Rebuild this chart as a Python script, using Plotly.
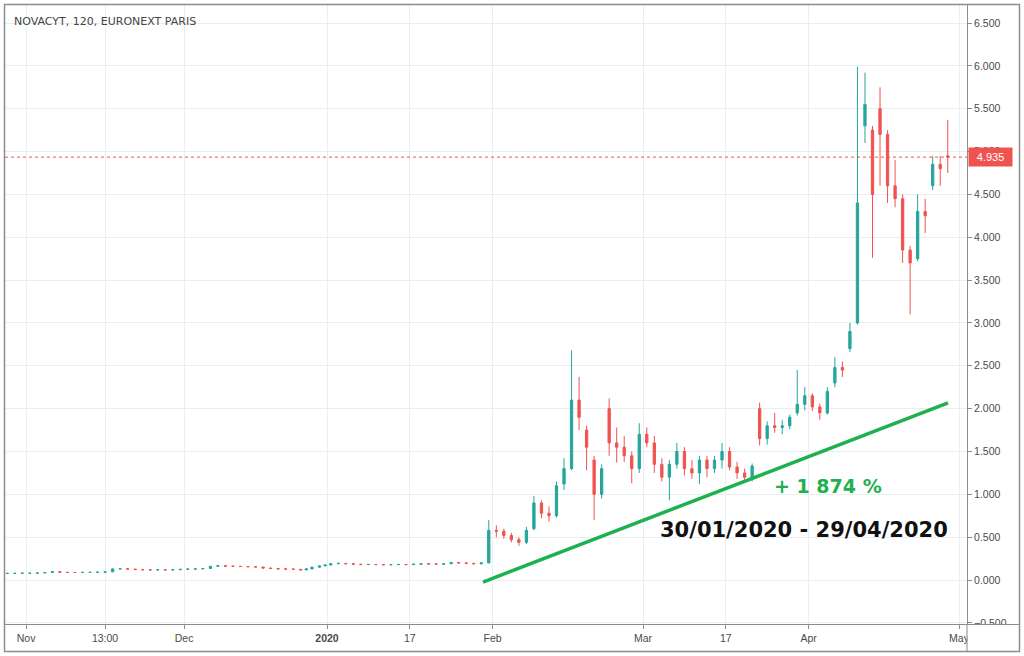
import pandas as pd
import plotly.graph_objects as go

# ---------------- data ----------------
chart_title = "NOVACYT, 120, EURONEXT PARIS"
last_price = 4.935
gain_text = "+ 1 874 %"
period_text = "30/01/2020 - 29/04/2020"

first_day = "2019-10-29"
axis_end_day = "2020-05-04"
holidays = ["2019-12-25", "2019-12-26", "2020-01-01", "2020-04-10", "2020-04-13", "2020-05-01"]
half_days = ["2019-12-24", "2019-12-31"]

# Oct 29 2019 -> Dec 31 2019 (44 sessions)
open_q4 = [0.077, 0.078, 0.078, 0.080, 0.080, 0.082, 0.088, 0.098, 0.090, 0.088, 0.088, 0.090, 0.090, 0.091,
           0.096, 0.130, 0.132, 0.128, 0.122, 0.120, 0.118, 0.120, 0.118, 0.120, 0.125, 0.128, 0.130, 0.136,
           0.160, 0.168, 0.162, 0.160, 0.158, 0.155, 0.152, 0.140, 0.135, 0.130, 0.128, 0.125, 0.118, 0.130,
           0.150, 0.165]
high_q4 = [0.082, 0.082, 0.083, 0.084, 0.086, 0.092, 0.106, 0.100, 0.093, 0.092, 0.094, 0.094, 0.095, 0.099,
           0.136, 0.138, 0.134, 0.130, 0.125, 0.123, 0.124, 0.122, 0.124, 0.129, 0.132, 0.134, 0.139, 0.164,
           0.172, 0.170, 0.166, 0.163, 0.160, 0.157, 0.154, 0.143, 0.138, 0.134, 0.131, 0.128, 0.133, 0.154,
           0.168, 0.180]
low_q4 = [0.074, 0.075, 0.076, 0.077, 0.078, 0.080, 0.086, 0.087, 0.085, 0.085, 0.086, 0.087, 0.088, 0.089,
          0.093, 0.126, 0.126, 0.120, 0.117, 0.115, 0.115, 0.115, 0.115, 0.117, 0.122, 0.125, 0.127, 0.133,
          0.156, 0.158, 0.157, 0.154, 0.152, 0.149, 0.137, 0.132, 0.127, 0.125, 0.121, 0.114, 0.116, 0.127,
          0.146, 0.162]
close_q4 = [0.078, 0.078, 0.080, 0.080, 0.082, 0.088, 0.098, 0.090, 0.088, 0.088, 0.090, 0.090, 0.091, 0.095,
            0.130, 0.132, 0.128, 0.122, 0.120, 0.118, 0.120, 0.118, 0.120, 0.125, 0.128, 0.130, 0.135, 0.160,
            0.168, 0.162, 0.160, 0.158, 0.155, 0.152, 0.140, 0.135, 0.130, 0.128, 0.125, 0.118, 0.130, 0.150,
            0.165, 0.175]

# Jan 2 2020 -> Jan 29 2020 (20 sessions)
open_jan = [0.175, 0.190, 0.195, 0.190, 0.185, 0.180, 0.182, 0.180, 0.178, 0.180,
            0.182, 0.180, 0.185, 0.190, 0.188, 0.185, 0.190, 0.205, 0.200, 0.195]
high_jan = [0.196, 0.200, 0.198, 0.193, 0.188, 0.186, 0.186, 0.184, 0.184, 0.186,
            0.186, 0.189, 0.194, 0.194, 0.191, 0.194, 0.212, 0.210, 0.204, 0.199]
low_jan = [0.172, 0.186, 0.186, 0.182, 0.176, 0.177, 0.176, 0.174, 0.175, 0.177,
           0.176, 0.177, 0.181, 0.184, 0.181, 0.182, 0.187, 0.196, 0.191, 0.186]
close_jan = [0.190, 0.195, 0.190, 0.185, 0.180, 0.182, 0.180, 0.178, 0.180, 0.182,
             0.180, 0.185, 0.190, 0.188, 0.185, 0.190, 0.205, 0.200, 0.195, 0.190]

# Jan 30 2020 -> Apr 29 2020 (63 sessions)
open_rally = [0.190, 0.200, 0.580, 0.570, 0.520, 0.470, 0.440, 0.600, 0.900, 0.780,
              0.750, 1.120, 1.300, 2.100, 1.750, 1.400, 1.000, 2.000, 1.600, 1.550,
              1.450, 1.300, 1.700, 1.600, 1.350, 1.200, 1.350, 1.500, 1.300, 1.250,
              1.400, 1.300, 1.400, 1.500, 1.320, 1.250, 1.180, 2.000, 1.650, 1.800,
              1.780, 1.800, 1.950, 2.050, 2.150, 2.020, 1.950, 2.300, 2.480, 2.700,
              3.000, 5.300, 5.250, 5.500, 5.200, 4.600, 4.450, 3.850, 3.750, 4.300,
              4.600, 4.850, 4.950]
high_rally = [0.210, 0.700, 0.640, 0.600, 0.550, 0.500, 0.620, 0.980, 0.930, 0.860,
              1.150, 1.420, 2.680, 2.370, 1.800, 1.450, 1.350, 2.120, 1.780, 1.680,
              1.500, 1.830, 1.780, 1.680, 1.420, 1.400, 1.600, 1.550, 1.400, 1.450,
              1.450, 1.450, 1.600, 1.550, 1.380, 1.300, 1.360, 2.070, 1.850, 1.950,
              1.870, 1.930, 2.450, 2.250, 2.180, 2.060, 2.250, 2.600, 2.550, 3.000,
              5.990, 5.920, 5.300, 5.750, 5.250, 4.900, 4.500, 3.900, 4.500, 4.450,
              4.950, 4.950, 5.370]
low_rally = [0.182, 0.195, 0.500, 0.480, 0.440, 0.400, 0.420, 0.580, 0.720, 0.680,
             0.730, 1.050, 1.280, 1.750, 1.280, 0.700, 0.950, 1.450, 1.370, 1.380,
             1.130, 1.250, 1.550, 1.250, 1.150, 0.930, 1.300, 1.220, 1.180, 1.120,
             1.200, 1.250, 1.300, 1.280, 1.180, 1.170, 1.150, 1.570, 1.580, 1.720,
             1.700, 1.760, 1.920, 1.980, 1.970, 1.870, 1.930, 2.250, 2.370, 2.660,
             2.980, 5.100, 3.760, 4.600, 4.400, 4.350, 3.700, 3.100, 3.720, 4.050,
             4.550, 4.600, 4.750]
close_rally = [0.200, 0.580, 0.570, 0.520, 0.470, 0.440, 0.580, 0.900, 0.780, 0.750,
               1.100, 1.300, 2.100, 1.900, 1.550, 1.000, 1.300, 1.600, 1.550, 1.450,
               1.300, 1.700, 1.600, 1.350, 1.200, 1.350, 1.500, 1.300, 1.250, 1.400,
               1.300, 1.400, 1.500, 1.320, 1.250, 1.200, 1.330, 1.650, 1.800, 1.780,
               1.800, 1.900, 2.050, 2.150, 2.020, 1.950, 2.200, 2.480, 2.450, 2.900,
               4.400, 5.550, 4.500, 5.200, 4.600, 4.450, 3.850, 3.700, 4.300, 4.250,
               4.850, 4.800, 4.935]

# hand-drawn trend line (start/end session, price)
trend_days = ["2020-01-30", "2020-04-29"]
trend_prices = [-0.023, 2.066]

# x-axis labels: (session, label)
tick_days = ["2019-11-01", "2019-11-15", "2019-12-02", "2020-01-02", "2020-01-17",
             "2020-02-03", "2020-03-02", "2020-03-17", "2020-04-01", "2020-05-04"]
tick_labels = ["Nov", "13:00", "Dec", "<b>2020</b>", "17", "Feb", "Mar", "17", "Apr", "May"]

# ---------------- build session scale ----------------
sessions = [d.strftime("%Y-%m-%d") for d in pd.bdate_range(first_day, axis_end_day)
            if d.strftime("%Y-%m-%d") not in holidays]
weights = [0.5 if s in half_days else 1.0 for s in sessions]
start_pos = {}
acc = 0.0
for s, w in zip(sessions, weights):
    start_pos[s] = acc
    acc += w

open_ = open_q4 + open_jan + open_rally
high = high_q4 + high_jan + high_rally
low = low_q4 + low_jan + low_rally
close = close_q4 + close_jan + close_rally
n = len(close)
x_candle = [start_pos[s] + w / 2 for s, w in zip(sessions[:n], weights[:n])]

tickvals = [start_pos[d] + (0.5 if lab == "13:00" else 0.0) for d, lab in zip(tick_days, tick_labels)]
trend_x = [start_pos[trend_days[0]] + 0.73, start_pos[trend_days[1]] + 0.54]

# ---------------- styling ----------------
W, H = 1024, 656
L, R, T, B = 5, 967, 5, 624
UP, DN = "#26a69a", "#ef5350"
GRID = "#e7eef4"
FRAME = "#8c8c8c"
TXT = "#4a4a4a"
GREEN = "#1fb04f"


def xp(px):
    return (px - L) / (R - L)


def yp(py):
    return (B - py) / (B - T)


fig = go.Figure()
fig.add_trace(go.Candlestick(
    x=x_candle, open=open_, high=high, low=low, close=close,
    increasing=dict(line=dict(color=UP, width=1), fillcolor=UP),
    decreasing=dict(line=dict(color=DN, width=1), fillcolor=DN),
    whiskerwidth=0, hoverinfo="skip", showlegend=False,
))
fig.add_trace(go.Scatter(
    x=trend_x, y=trend_prices, mode="lines",
    line=dict(color=GREEN, width=3.5), hoverinfo="skip", showlegend=False,
))

fig.update_layout(
    width=W, height=H,
    margin=dict(l=L, r=W - R, t=T, b=H - B),
    paper_bgcolor="white", plot_bgcolor="white",
    boxgap=0.42,
    showlegend=False,
    font=dict(family="Liberation Sans, Arial, sans-serif", size=10, color=TXT),
    xaxis=dict(
        range=[0.2, 128.06], tickmode="array", tickvals=tickvals, ticktext=tick_labels,
        showgrid=True, gridcolor=GRID, gridwidth=1, zeroline=False,
        ticks="outside", ticklen=4, tickcolor=FRAME, showline=True, linecolor=FRAME,
        linewidth=1, rangeslider=dict(visible=False), tickfont=dict(size=10.5, color=TXT),
        fixedrange=True,
    ),
    yaxis=dict(
        side="right", range=[-0.513, 6.71], tick0=0, dtick=0.5, tickformat=".3f",
        showgrid=True, gridcolor=GRID, gridwidth=1, zeroline=False,
        ticks="outside", ticklen=4, tickcolor=FRAME, showline=True, linecolor=FRAME,
        linewidth=1, tickfont=dict(size=10.5, color=TXT), fixedrange=True,
    ),
)

shapes = [
    # last price dotted line
    dict(type="line", xref="paper", yref="y", x0=0, x1=1, y0=last_price, y1=last_price,
         line=dict(color=DN, width=1, dash="dot"), layer="above"),
    # clip region below the price scale
    dict(type="rect", xref="paper", yref="paper", x0=xp(967.5), x1=xp(1019.5), y0=yp(651.5), y1=yp(624.5),
         fillcolor="white", line=dict(width=0), layer="above"),
    dict(type="line", xref="paper", yref="paper", x0=xp(967), x1=xp(1019.5), y0=yp(624.5), y1=yp(624.5),
         line=dict(color=FRAME, width=1), layer="above"),
    dict(type="line", xref="paper", yref="paper", x0=xp(967), x1=xp(967), y0=yp(624), y1=yp(651.5),
         line=dict(color=FRAME, width=1), layer="above"),
    # outer frame
    dict(type="rect", xref="paper", yref="paper", x0=xp(4.5), x1=xp(1019.5), y0=yp(651.5), y1=yp(4.5),
         line=dict(color=FRAME, width=1.5), fillcolor="rgba(0,0,0,0)", layer="above"),
]
fig.update_layout(shapes=shapes)

annotations = [
    dict(xref="paper", yref="paper", x=xp(12), y=yp(21), xanchor="left", yanchor="middle",
         text=chart_title, showarrow=False,
         font=dict(family="DejaVu Sans, sans-serif", size=11, color="#444444")),
    dict(xref="paper", yref="y", x=1, y=last_price, xanchor="left", yanchor="middle", xshift=1,
         text=f"{last_price:.3f}", showarrow=False, bgcolor=DN, width=41, height=16,
         align="center", font=dict(family="Liberation Sans, Arial, sans-serif", size=11, color="white")),
    dict(xref="x", yref="y", x=102.2, y=1.097, xanchor="left", yanchor="middle",
         text=gain_text, showarrow=False,
         font=dict(family="DejaVu Sans, sans-serif", size=19, color=GREEN, weight="bold")),
    dict(xref="x", yref="y", x=87.0, y=0.583, xanchor="left", yanchor="middle",
         text=period_text, showarrow=False,
         font=dict(family="DejaVu Sans, sans-serif", size=21, color="#111111", weight="bold")),
]
fig.update_layout(annotations=annotations)

fig.write_html("out.html")
